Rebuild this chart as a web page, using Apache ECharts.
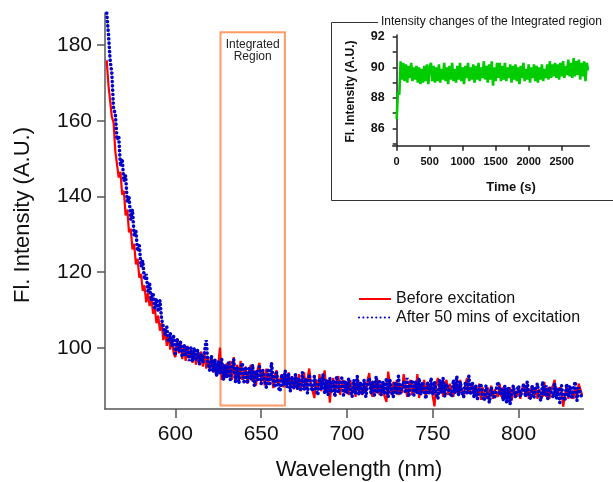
<!DOCTYPE html>
<html><head><meta charset="utf-8">
<script src="https://cdn.jsdelivr.net/npm/echarts@6/dist/echarts.min.js"></script>
<style>html,body{margin:0;padding:0;background:#fff}#c{width:613px;height:482px}</style>
</head><body><div id="c"></div>
<script>
// ---- data ----
const wlStart = 560, wlStep = 1; // wavelength grid (nm)
const redBefore = [
176,169.5,169,161,159.5,152,151.5,145,146.5,140.5,
141.5,135,136.5,130.5,131.5,126,127.5,122,123.5,118.5,
119.5,115,116.5,112,114.5,111,113.5,109,110.5,106.5,
108.5,104.5,106.5,102,104.5,100.5,103.5,99.5,102.5,98.5,
97.5,102.5,98.5,101.5,97,100.5,96.5,100.5,97.5,99.5,
96,99.5,95.5,98.5,96.5,99,95,98.5,94.5,97.5,
94.5,97.5,93.5,96.5,92.5,95.5,100,91.5,95.5,92,
96,92.5,96.5,91.5,97.5,91,95.5,92,96.5,91.5,
91.5,95,90.5,94,95.5,91,94,90,94.5,96,
91,94,90,94.5,91,90.5,93.5,89.3,93,94,
90,91.5,93,89.5,92.5,90,93.5,89.5,92.5,89,
92,89,93,88.5,91.5,93.5,89,88.5,94.5,90.5,
88.5,86.7,91.5,89,93,88.5,91.5,94,88.5,91.5,
85.5,90.5,92,88,91,92.5,87.5,90.5,91.5,88,
91,87.5,91.5,88,90.5,87,92,88.5,90.5,87.5,
90.5,88,91.5,93.3,88,87,91,88,91.5,87.5,
90.5,88.5,87,85.7,93.7,90.5,87.5,91,88,91.5,
87.5,90.5,88,93,90.5,87,90,91.5,87.5,90.5,
88,93,86.7,90.5,88,91.5,87,91,88,90.5,
87,84.5,90.5,92,88,91,87,90,91.5,87.5,
90.5,88,87,91,89.5,87.5,91.5,88,87,90.5,
92,88,87.5,90.5,87,90,87.5,90.5,86.2,89.5,
89,86.5,89.5,87,90,86.5,89,89.5,87,90.5,
87,89.5,86.5,89,87,89.5,86,89,89.5,87,
89.5,86.5,89,90.5,87,89.5,86.5,89,90,87,
89.5,86.5,89,89.5,87,91,87,89.5,86.5,89,
90,91.5,87,86.5,89.5,88.5,84.4,87.5,90,86.5,
89,89.5,86.5,89.5,87,90.5,91,87.5
];
const blueAfter = [
188.5,183,176,172.5,163,162,155,156,148,150,
144,145.5,138.5,140,134,136.5,129.5,131,125.5,127,
121.5,123,118,119.5,115,117,112.5,114.5,110.5,113,
109.5,112.5,107.5,108,103.5,105.5,101.5,104,100.5,103,
98.5,102.5,99,101.5,97.5,101,98,100.5,96.5,100,
96.5,100,97,99.5,95.5,98.5,96,99,102,95.5,
94,98,93.5,97,92.5,96.5,93,97,91.5,95.5,
92,96,91.5,95,97,91,95,90.5,94.5,96,
91,95,90.5,94.5,91.5,95.5,90,94,91.5,95,
90.5,94,91.5,89.5,94.5,90,96,91.5,89.5,93.5,
89.5,88.5,93,90,94,89.5,93,88.5,92.5,89.5,
93,89,92,88.5,93.5,89,92,88,93,89.5,
88.5,92.5,89,87.5,92,89,93,88,91.5,87.5,
92,88.5,91.5,87,92.5,88,91,92,87.5,91,
88,92,88.5,87,91.5,88,92.5,87.5,91,88,
91.5,87,90.5,92,88,91,87.5,92.5,88,91,
87.5,91,88,92,87,91.5,88.5,87,91,88,
92.5,88,87.5,91,88,92,87,90.5,91.5,87.5,
91,88,92,87.5,91,88.5,86.5,91,88,92,
87.5,91,88,86.5,91.5,88,92,87,90.5,91,
88,87,91.5,88,92.5,87.5,91,88,87,91,
88,92.5,87.5,91,87,90,86.5,89.5,90.5,87,
86,90,87,85.5,89.5,90,86.5,89,91,87.5,
89,86,90,85.5,89.5,85,88.5,90,87,86.5,
90,87,86.5,90.5,87,91,87.5,86.5,90,87,
89.5,90.5,87,86,91,87.5,90,86.5,89.5,90,
87,90.5,86.5,89.5,85.5,90,87,86,90.5,87,
90,86.5,89.5,91,86,89.5,90,86.5
];
const timeStart = 0, timeStep = 20; // inset time grid (s)
const greenIntensity = [
86.6,88.4,88.2,90.4,89.2,90.3,89.1,90.2,89.0,90.1,89.3,90.3,89.1,90.0,89.2,
90.1,89.0,90.0,88.9,89.9,89.0,90.1,89.1,90.2,88.9,90.0,90.3,89.1,90.1,89.0,
90.0,89.1,90.2,89.0,89.9,89.2,90.3,89.1,90.0,88.9,90.1,89.2,90.3,89.1,89.9,
89.0,90.1,89.2,90.3,89.1,90.0,88.9,90.1,89.3,90.3,89.1,90.0,89.2,90.2,89.0,
90.1,89.2,90.3,89.1,90.0,89.3,90.4,89.2,90.1,89.0,90.2,89.2,90.4,88.8,90.0,
89.1,90.3,89.3,90.3,89.1,90.1,89.2,90.3,89.1,90.0,89.3,90.2,89.0,90.1,89.2,
90.2,89.1,90.0,88.9,90.1,89.3,90.3,89.1,89.9,89.2,90.2,89.0,90.0,89.3,90.2,
89.1,90.1,89.0,90.0,89.2,90.2,89.1,89.9,89.3,90.2,89.2,90.4,89.3,90.2,89.4,
90.3,89.3,90.2,89.2,90.3,89.4,90.4,89.3,90.1,89.5,90.5,89.4,90.3,89.3,90.6,
89.4,90.4,89.5,90.5,89.2,90.3,89.4,90.4,89.1,90.3,
89.8
];
const mainXTicks = [600, 650, 700, 750, 800];
const mainYTicks = [100, 120, 140, 160, 180];
const insetXTicks = [0, 500, 1000, 1500, 2000, 2500];
const insetYLabels = [86, 88, 90, 92];
const insetYTicks = [85, 86, 87, 88, 89, 90, 91, 92];
const regionNm = [626.3, 663.8];
const regionVal = [84.7, 183.4];

// ---- chart ----
const FONT = "'Liberation Sans', Arial, sans-serif";
const redData = redBefore.map((v, i) => [wlStart + i * wlStep, v]);
const blueData = blueAfter.map((v, i) => [wlStart + i * wlStep, v]);
const greenData = greenIntensity.map((v, i) => [timeStart + i * timeStep, v]);

const chart = echarts.init(document.getElementById('c'), null, {renderer: 'canvas'});
const mainAxisLine = {show: true, lineStyle: {color: '#555', width: 1.5}};
const insetAxisLine = {show: true, lineStyle: {color: '#222', width: 1.5}};
chart.setOption({
  animation: false,
  backgroundColor: '#fff',
  textStyle: {fontFamily: FONT},
  grid: [
    {left: 105, right: 29.7, top: 13, bottom: 73},
    {left: 392.7, right: 23.7, top: 35, bottom: 336.3}
  ],
  xAxis: [
    {type: 'value', gridIndex: 0, min: 559, max: 837.7,
     axisLine: mainAxisLine,
     axisTick: {show: true, customValues: mainXTicks, length: 9, lineStyle: {color: '#555', width: 1.5}},
     axisLabel: {customValues: mainXTicks, fontSize: 21, color: '#111', margin: 15, fontFamily: FONT},
     splitLine: {show: false}},
    {type: 'value', gridIndex: 1, min: -60, max: 2918,
     axisLine: insetAxisLine,
     axisTick: {show: true, customValues: insetXTicks, length: 5, lineStyle: {color: '#222', width: 1.5}},
     axisLabel: {customValues: insetXTicks, formatter: v => String(v), fontSize: 11, fontWeight: 'bold', color: '#111', margin: 11, fontFamily: FONT},
     splitLine: {show: false}}
  ],
  yAxis: [
    {type: 'value', gridIndex: 0, min: 83.8, max: 188.5,
     axisLine: mainAxisLine,
     axisTick: {show: true, customValues: mainYTicks, length: 8, lineStyle: {color: '#555', width: 1.5}},
     axisLabel: {customValues: mainYTicks, fontSize: 21, color: '#111', margin: 13, fontFamily: FONT},
     splitLine: {show: false}},
    {type: 'value', gridIndex: 1, min: 84.86, max: 92.12,
     axisLine: insetAxisLine,
     axisTick: {show: true, customValues: insetYTicks, length: 4, lineStyle: {color: '#222', width: 1.5}},
     axisLabel: {customValues: insetYLabels, fontSize: 12.5, fontWeight: 'bold', color: '#111', margin: 8, fontFamily: FONT},
     splitLine: {show: false}}
  ],
  legend: {
    orient: 'vertical', left: 358, top: 291, padding: 0,
    itemWidth: 32, itemHeight: 14, itemGap: 2.4,
    itemStyle: {color: 'rgba(0,0,0,0)', borderWidth: 0, borderColor: 'rgba(0,0,0,0)'},
    textStyle: {fontSize: 16, color: '#111', lineHeight: 16, fontFamily: FONT},
    data: ['Before excitation', 'After 50 mins of excitation']
  },
  series: [
    {name: 'Before excitation', type: 'line', xAxisIndex: 0, yAxisIndex: 0,
     data: redData, symbol: 'none', color: '#FF0000',
     lineStyle: {color: '#FF0000', width: 2.2},
     markArea: {silent: true,
       itemStyle: {color: 'rgba(0,0,0,0)', borderColor: '#FF9966', borderWidth: 2},
       label: {show: true, position: 'insideTop', distance: 7, formatter: 'Integrated\nRegion',
               fontSize: 12, lineHeight: 12, color: '#222', fontFamily: FONT},
       data: [[{xAxis: regionNm[0], yAxis: regionVal[1]}, {xAxis: regionNm[1], yAxis: regionVal[0]}]]}},
    {name: 'After 50 mins of excitation', type: 'line', xAxisIndex: 0, yAxisIndex: 0,
     data: blueData, symbol: 'none', color: '#0000CC',
     lineStyle: {color: '#0000CC', width: 3.6, type: [0.1, 4.2], cap: 'round'}},
    {name: 'Integrated region', type: 'line', xAxisIndex: 1, yAxisIndex: 1,
     data: greenData, symbol: 'none', color: '#00CC00',
     lineStyle: {color: '#00CC00', width: 2.6}}
  ],
  graphic: [
    {type: 'text', x: 22.5, y: 215, rotation: Math.PI / 2,
     style: {text: 'Fl. Intensity (A.U.)', font: '22px ' + FONT, fill: '#111', align: 'center', verticalAlign: 'middle'}},
    {type: 'text', x: 359, y: 470,
     style: {text: 'Wavelength (nm)', font: '22px ' + FONT, fill: '#111', align: 'center', verticalAlign: 'middle'}},
    {type: 'polyline', silent: true,
     shape: {points: [[378, 22.5], [331.5, 22.5], [331.5, 200.5], [613, 200.5]]},
     style: {stroke: '#333', lineWidth: 1, fill: null}},
    {type: 'text', x: 381, y: 21.5,
     style: {text: 'Intensity changes of the Integrated region', font: '12px ' + FONT, fill: '#111', align: 'left', verticalAlign: 'middle'}},
    {type: 'text', x: 351, y: 91.5, rotation: Math.PI / 2,
     style: {text: 'Fl. Intensity (A.U.)', font: 'bold 12px ' + FONT, fill: '#111', align: 'center', verticalAlign: 'middle'}},
    {type: 'text', x: 511, y: 187,
     style: {text: 'Time (s)', font: 'bold 13px ' + FONT, fill: '#111', align: 'center', verticalAlign: 'middle'}}
  ]
});
</script>
</body></html>
